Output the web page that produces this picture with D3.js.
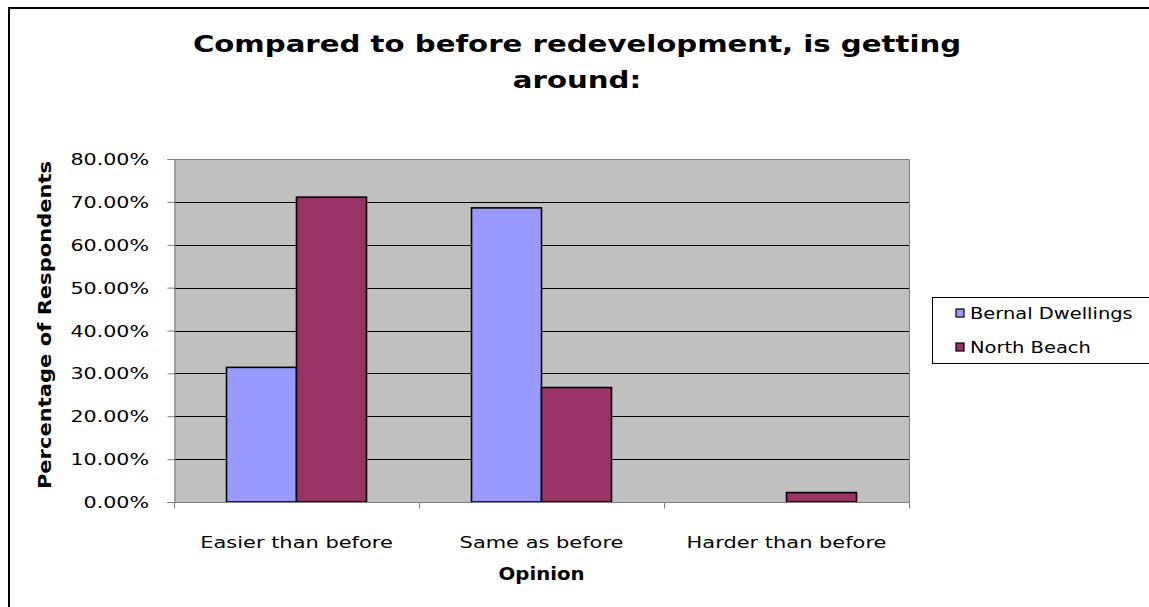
<!DOCTYPE html>
<html>
<head>
<meta charset="utf-8">
<script src="https://cdn.jsdelivr.net/npm/d3@7/dist/d3.min.js"></script>
<style>
  html, body { margin: 0; padding: 0; background: #fff; }
  svg { display: block; }
  text { font-family: "DejaVu Sans", Verdana, sans-serif; fill: #000; }
</style>
</head>
<body>
<svg id="chart" width="1149" height="607"></svg>
<script>
// Survey answers: share of respondents per opinion, by development
const categories = ["Easier than before", "Same as before", "Harder than before"];
const seriesNames = ["Bernal Dwellings", "North Beach"];
const bernalDwellings = [0.314, 0.686, 0.0];
const northBeach = [0.711, 0.267, 0.022];
const yTicks = [0, 0.1, 0.2, 0.3, 0.4, 0.5, 0.6, 0.7, 0.8];
const seriesColors = ["#9999FF", "#993366"];

const titleLines = ["Compared to before redevelopment, is getting", "around:"];
const xTitle = "Opinion";
const yTitle = "Percentage of Respondents";

const svg = d3.select("#chart");
const SX = 1.25; // horizontal widening applied to the text glyphs

// plot area
const plot = { left: 174, right: 909, top: 159, bottom: 502 };

// outer chart frame
svg.append("rect")
  .attr("x", 9).attr("y", 8)
  .attr("width", 1160).attr("height", 620)
  .attr("fill", "#fff").attr("stroke", "#000").attr("stroke-width", 2);

function label(x, y, str, opts) {
  const g = svg.append("g").attr("transform", `translate(${x},${y})` + (opts.rotate ? " rotate(-90)" : "") + ` scale(${opts.sx || SX},1)`);
  g.append("text")
    .attr("text-anchor", opts.anchor || "middle")
    .attr("font-size", opts.size)
    .attr("font-weight", opts.bold ? "bold" : "normal")
    .text(str);
  return g;
}

const x = d3.scaleBand()
  .domain(categories)
  .range([plot.left, plot.right])
  .paddingInner(0.4286)
  .paddingOuter(0.2143);

const xs = d3.scaleBand()
  .domain(seriesNames)
  .range([0, x.bandwidth()]);

const y = d3.scaleLinear().domain([0, 0.8]).range([plot.bottom, plot.top]);

// background
svg.append("rect")
  .attr("x", plot.left).attr("y", plot.top)
  .attr("width", plot.right - plot.left).attr("height", plot.bottom - plot.top)
  .attr("fill", "#C0C0C0");

// gridlines
svg.append("g")
  .selectAll("line")
  .data(yTicks.filter(d => d > 0 && d < 0.8))
  .join("line")
  .attr("x1", plot.left).attr("x2", plot.right)
  .attr("y1", d => Math.round(y(d)) + 0.5).attr("y2", d => Math.round(y(d)) + 0.5)
  .attr("stroke", "#000").attr("stroke-width", 1);

// plot border (top, right)
svg.append("path")
  .attr("d", `M${plot.left},${plot.top + 0.5}H${plot.right + 0.5}V${plot.bottom}`)
  .attr("fill", "none").attr("stroke", "#808080").attr("stroke-width", 1);

// bars
const data = categories.map((c, i) => ({ cat: c, values: [bernalDwellings[i], northBeach[i]] }));
const groups = svg.append("g").selectAll("g")
  .data(data).join("g")
  .attr("transform", d => `translate(${x(d.cat)},0)`);
groups.selectAll("rect")
  .data(d => d.values.map((v, j) => ({ name: seriesNames[j], v, j })).filter(e => e.v > 0))
  .join("rect")
  .attr("x", e => xs(e.name))
  .attr("width", xs.bandwidth())
  .attr("y", e => y(e.v))
  .attr("height", e => plot.bottom - y(e.v))
  .attr("fill", e => seriesColors[e.j])
  .attr("stroke", "#000").attr("stroke-width", 1.6);

// y axis
const yAxis = d3.axisLeft(y).tickValues(yTicks).tickSize(7).tickFormat(d => (d * 100).toFixed(2) + "%");
const yg = svg.append("g").attr("transform", `translate(${plot.left + 0.5},0)`).call(yAxis);
yg.select(".domain").attr("stroke", "#808080");
yg.selectAll(".tick line").attr("stroke", "#808080");
yg.selectAll(".tick text").remove();
yTicks.forEach(t => label(149, y(t) + 6, yAxis.tickFormat()(t), { size: 16.5, anchor: "end" }));

// x axis
const xg = svg.append("g").attr("transform", `translate(0,${plot.bottom + 0.5})`);
xg.append("line").attr("x1", plot.left).attr("x2", plot.right + 1)
  .attr("stroke", "#808080");
const edges = d3.range(categories.length + 1).map(i => plot.left + i * x.step());
xg.selectAll("line.tick").data(edges).join("line").attr("class", "tick")
  .attr("x1", d => Math.round(d) + 0.5).attr("x2", d => Math.round(d) + 0.5)
  .attr("y1", 0).attr("y2", 6).attr("stroke", "#808080");
categories.forEach(c => label(x(c) + x.bandwidth() / 2, 548, c, { size: 16.5, sx: 1.27 }));

// titles
label(577, 52, titleLines[0], { size: 23, bold: true, sx: 1.27 });
label(577, 88, titleLines[1], { size: 23, bold: true, sx: 1.27 });
label((plot.left + plot.right) / 2, 580, xTitle, { size: 17, bold: true, sx: 1.16 });
label(51, 325, yTitle, { size: 17, bold: true, rotate: true, sx: 1.24 });

// legend
const lg = svg.append("g").attr("transform", "translate(932,297)");
lg.append("rect").attr("x", 0.5).attr("y", 0.5).attr("width", 240).attr("height", 66)
  .attr("fill", "#fff").attr("stroke", "#000").attr("stroke-width", 1);
seriesNames.forEach((n, i) => {
  const cy = 16 + i * 34;
  lg.append("rect").attr("x", 24).attr("y", cy - 4).attr("width", 8).attr("height", 8)
    .attr("fill", seriesColors[i]).attr("stroke", "#000").attr("stroke-width", 1.2);
  const g = lg.append("g").attr("transform", `translate(38,${cy + 6}) scale(1.18,1)`);
  g.append("text").attr("font-size", 16.5).text(n);
});
</script>
</body>
</html>
